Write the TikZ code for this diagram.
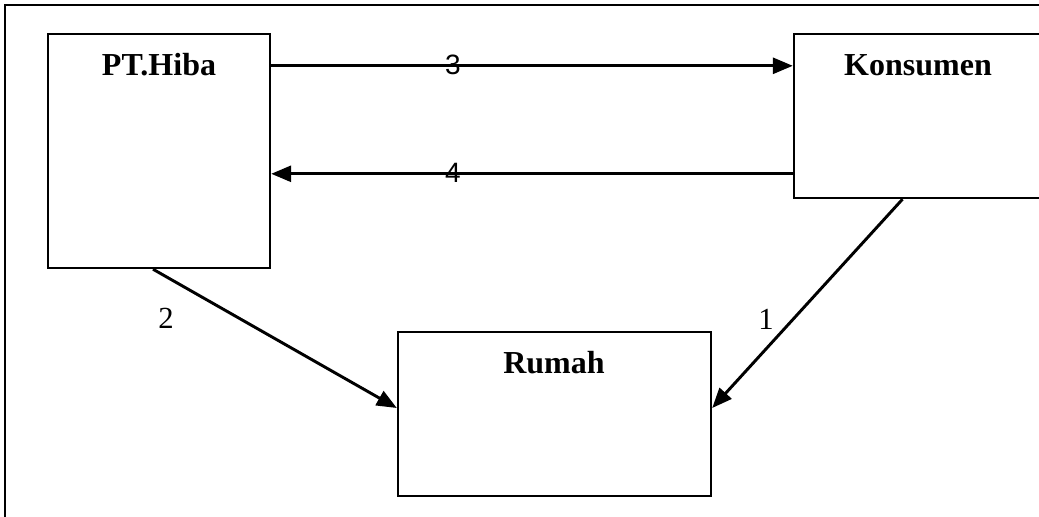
\documentclass[tikz,border=0pt]{standalone}
\usepackage{fontspec}
\setmainfont{Liberation Serif}
\newfontfamily\arialf{Liberation Sans}
\usetikzlibrary{arrows.meta,calc,fit}
\begin{document}
\begin{tikzpicture}[x=0.75pt,y=-0.75pt,
  box/.style={draw,line width=1.8pt,inner sep=0pt},
  title/.style={font=\fontsize{24}{28}\selectfont\bfseries,inner sep=0pt,anchor=base},
  numsans/.style={font=\arialf\fontsize{21}{24}\selectfont,inner sep=0pt},
  numserif/.style={font=\fontsize{23}{26}\selectfont,inner sep=0pt},
  arr/.style={line width=2.2pt,-{Triangle[length=15pt,width=12pt]}}]
\useasboundingbox (0,0) rectangle (1039,517);
\clip (0,0) rectangle (1039,517);
\draw[line width=2pt] (5,530) -- (5,5) -- (1050,5);
\node[box,fit={(48,34) (270,268)}] (hiba) {};
\node[box,fit={(794,34) (1045,198)}] (kons) {};
\node[box,fit={(398,332) (711,496)}] (rumah) {};
\node[title] (thiba) at (159,76) {PT.Hiba};
\node[title] (tkons) at (918,76) {Konsumen};
\node[title] (trumah) at (554,373) {Rumah};
\draw[arr] ($(hiba.north east)+(0,33)$) -- ($(kons.north west)+(0,33)$);
\draw[arr] ($(kons.north west)+(0,141)$) -- ($(hiba.north east)+(0,141)$);
\draw[arr] ($(hiba.south)+(-6,0)$) -- ($(rumah.west)+(0,-6)$);
\draw[arr] ($(kons.south)+(-17,0)$) -- ($(rumah.east)+(0,-6)$);
\node[numsans] (l3) at (453,65) {3};
\node[numsans] (l4) at (453,173) {4};
\node[numserif] (l2) at (166,318) {2};
\node[numserif] (l1) at (766,319) {1};
\end{tikzpicture}
\end{document}
